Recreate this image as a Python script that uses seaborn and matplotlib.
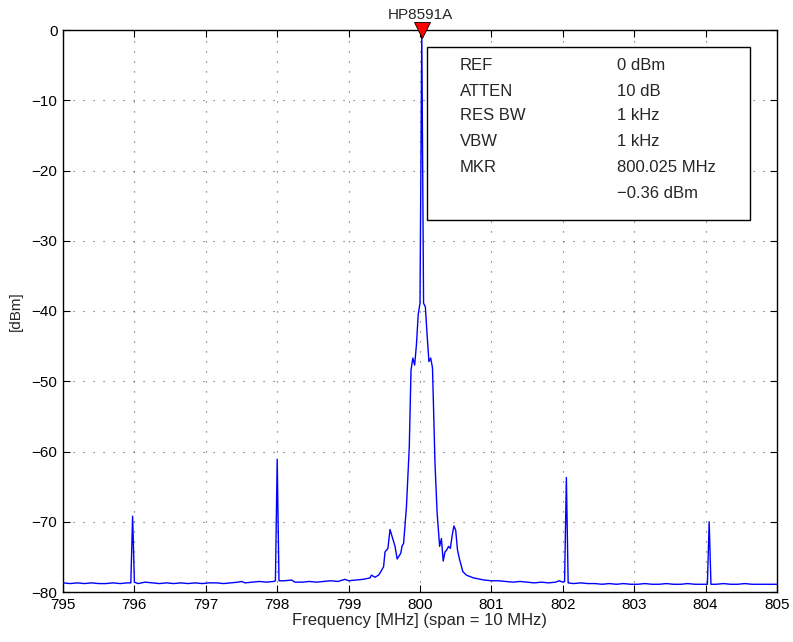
import matplotlib
matplotlib.use("Agg")
import matplotlib.pyplot as plt
import seaborn as sns
import pandas as pd
from matplotlib.patches import Rectangle

# ---- data ----
freq_mhz = [
    795.00, 795.10, 795.20, 795.30, 795.40, 795.50, 795.60, 795.70, 795.80, 795.90,
    795.95, 795.975, 796.00, 796.05, 796.15, 796.25, 796.35, 796.45, 796.55, 796.65,
    796.75, 796.85, 796.95, 797.05, 797.15, 797.25, 797.35, 797.45, 797.50, 797.55,
    797.65, 797.75, 797.85, 797.95, 797.975, 798.00, 798.025, 798.10, 798.20, 798.25,
    798.35, 798.45, 798.55, 798.65, 798.75, 798.85, 798.95, 799.00, 799.10, 799.20,
    799.30, 799.32, 799.37, 799.42, 799.44, 799.49, 799.51, 799.55, 799.58, 799.62,
    799.65, 799.68, 799.73, 799.75, 799.77, 799.81, 799.85, 799.874, 799.90, 799.925,
    799.95, 799.975, 800.00, 800.025, 800.05, 800.075, 800.10, 800.125, 800.15, 800.175,
    800.21, 800.24, 800.275, 800.30, 800.325, 800.35, 800.375, 800.40, 800.425, 800.45,
    800.475, 800.50, 800.525, 800.55, 800.60, 800.65, 800.70, 800.75, 800.80, 800.85,
    800.90, 801.00, 801.10, 801.20, 801.30, 801.40, 801.50, 801.60, 801.70, 801.80,
    801.90, 801.95, 802.00, 802.025, 802.05, 802.075, 802.15, 802.25, 802.35, 802.45,
    802.55, 802.65, 802.75, 802.85, 802.95, 803.05, 803.15, 803.25, 803.35, 803.45,
    803.55, 803.65, 803.75, 803.85, 803.95, 804.025, 804.05, 804.075, 804.15, 804.25,
    804.35, 804.45, 804.55, 804.65, 804.75, 804.85, 805.00,
]
level_dbm = [
    -78.7, -78.8, -78.7, -78.8, -78.7, -78.8, -78.8, -78.7, -78.8, -78.7,
    -78.7, -69.2, -78.6, -78.8, -78.6, -78.7, -78.8, -78.7, -78.8, -78.7,
    -78.8, -78.7, -78.8, -78.7, -78.7, -78.8, -78.7, -78.6, -78.5, -78.7,
    -78.6, -78.5, -78.6, -78.5, -78.4, -61.1, -78.4, -78.4, -78.3, -78.6,
    -78.6, -78.5, -78.6, -78.5, -78.4, -78.5, -78.2, -78.4, -78.3, -78.2,
    -78.0, -77.6, -77.9, -77.6, -77.3, -76.4, -74.3, -73.8, -71.1, -72.5,
    -73.5, -75.3, -74.5, -73.4, -73.1, -67.9, -59.3, -48.4, -46.7, -47.7,
    -44.8, -40.5, -38.9, -0.36, -38.9, -39.4, -43.5, -47.2, -46.7, -48.1,
    -61.7, -68.8, -73.5, -72.4, -75.6, -74.3, -74.0, -73.5, -73.8, -72.0,
    -70.6, -71.2, -74.0, -75.2, -77.1, -77.6, -77.8, -78.0, -78.1, -78.2,
    -78.3, -78.4, -78.4, -78.5, -78.6, -78.5, -78.6, -78.7, -78.6, -78.7,
    -78.6, -78.4, -78.6, -78.5, -63.7, -78.7, -78.8, -78.7, -78.8, -78.8,
    -78.9, -78.8, -78.9, -78.8, -78.9, -78.9, -78.8, -78.9, -78.9, -78.8,
    -78.9, -78.9, -78.8, -78.9, -78.9, -78.9, -70.0, -78.9, -78.9, -78.8,
    -78.9, -78.9, -78.8, -78.9, -78.9, -78.9, -78.9,
]
marker_freq = 800.025
marker_level = -0.36

xticks = [795, 796, 797, 798, 799, 800, 801, 802, 803, 804, 805]
yticks = [0, -10, -20, -30, -40, -50, -60, -70, -80]
ytick_labels = ["0", "\u221210", "\u221220", "\u221230", "\u221240",
                "\u221250", "\u221260", "\u221270", "\u221280"]

info_keys = ["REF", "ATTEN", "RES BW", "VBW", "MKR", ""]
info_vals = ["0 dBm", "10 dB", "1 kHz", "1 kHz", "800.025 MHz", "\u22120.36 dBm"]

# ---- style ----
sns.set_theme(style="white")
plt.rcParams["font.family"] = ["Liberation Sans", "DejaVu Sans"]
plt.rcParams["axes.unicode_minus"] = True

fig = plt.figure(figsize=(7.93, 6.42), dpi=100)
ax = fig.add_axes([63 / 793, 1 - 592 / 642, (777 - 63) / 793, (592 - 30) / 642])

df = pd.DataFrame({"f": freq_mhz, "p": level_dbm})
sns.lineplot(data=df, x="f", y="p", ax=ax, color="blue", linewidth=1.0,
             estimator=None, sort=False, zorder=3)

ax.plot([marker_freq], [0], marker="v", color="red", markersize=11,
        markeredgecolor="black", markeredgewidth=0.6, clip_on=False,
        zorder=10, linestyle="none")

ax.set_xlim(795, 805)
ax.set_ylim(-80, 0)
ax.set_xticks(xticks)
ax.set_xticklabels([str(t) for t in xticks])
ax.set_yticks(yticks)
ax.set_yticklabels(ytick_labels)
ax.tick_params(direction="in", length=5, width=0.8, top=True, right=True,
               bottom=True, left=True, labelsize=11, colors="black", pad=4)
ax.grid(True, linestyle=(0, (1, 8)), color="#555555", linewidth=0.8)
for s in ax.spines.values():
    s.set_color("black")
    s.set_linewidth(1.0)

ax.set_xlabel("Frequency [MHz] (span = 10 MHz)", fontsize=12, labelpad=1)
ax.set_ylabel("[dBm]", fontsize=11, labelpad=6)
ax.set_title("HP8591A", fontsize=11, pad=8)

# info box
bx0 = (427 - 63) / 714
bx1 = (750 - 63) / 714
by1 = 1 - (47 - 30) / 562
by0 = 1 - (220 - 30) / 562
ax.add_patch(Rectangle((bx0, by0), bx1 - bx0, by1 - by0, transform=ax.transAxes,
                       facecolor="white", edgecolor="black", linewidth=1.0,
                       zorder=8))
row_y = [66, 91, 116, 142, 168, 194]
for k, v, yy in zip(info_keys, info_vals, row_y):
    fy = 1 - (yy - 30) / 562
    ax.text((460 - 63) / 714, fy, k, transform=ax.transAxes, fontsize=12,
            va="center", ha="left", zorder=9)
    ax.text((617 - 63) / 714, fy, v, transform=ax.transAxes, fontsize=12,
            va="center", ha="left", zorder=9)

fig.savefig("out.png", dpi=100)
